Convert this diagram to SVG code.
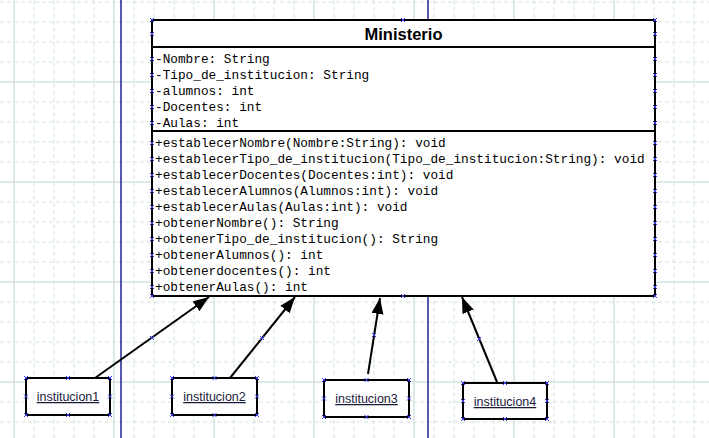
<svg xmlns="http://www.w3.org/2000/svg" xmlns:xlink="http://www.w3.org/1999/xlink" width="709" height="438" viewBox="0 0 709 438">
<style>
.gd{stroke:#d3e3df;stroke-width:1;stroke-dasharray:4 3;fill:none}
.gs{stroke:#d3e3df;stroke-width:1.5;fill:none}
.lane{stroke:#000080;stroke-width:1.3}
.box{fill:#fff;stroke:#000;stroke-width:2}
.sep{stroke:#000;stroke-width:2}
.mono{font-family:"Liberation Mono","Courier New",monospace;font-size:12.75px;fill:#000}
.title{font-family:"Liberation Sans",Arial,sans-serif;font-size:16.5px;font-weight:bold;fill:#000}
.lbl{font-family:"Liberation Sans",Arial,sans-serif;font-size:12.5px;fill:#1a1a3a;text-decoration:underline}
.con{stroke:#000;stroke-width:2;fill:none}
.hd{stroke:#3838e0;stroke-width:1;fill:none}
</style>
<defs>
<marker id="ah" markerUnits="userSpaceOnUse" markerWidth="18" markerHeight="14" refX="16" refY="6" orient="auto">
<path d="M0,0 L16,6 L0,12 Z" fill="#000"/>
</marker>
<path id="h" class="hd" d="M-2,-2 L2,2 M-2,2 L2,-2"/>
</defs>
<rect width="709" height="438" fill="#fff"/>
<g id="grid">
<path class="gd" d="M34,0V438M54,0V438M74,0V438M94,0V438M134,0V438M154,0V438M174,0V438M194,0V438M234,0V438M254,0V438M274,0V438M294,0V438M334,0V438M354,0V438M374,0V438M394,0V438M434,0V438M454,0V438M474,0V438M494,0V438M534,0V438M554,0V438M574,0V438M594,0V438M634,0V438M654,0V438M674,0V438M694,0V438"/>
<path class="gd" d="M0,2H709M0,22H709M0,42H709M0,62H709M0,102H709M0,122H709M0,142H709M0,162H709M0,202H709M0,222H709M0,242H709M0,262H709M0,302H709M0,322H709M0,342H709M0,362H709M0,402H709M0,422H709"/>
<path class="gs" d="M14,0V438M114,0V438M214,0V438M314,0V438M414,0V438M514,0V438M614,0V438M0,82H709M0,182H709M0,282H709M0,382H709"/>
<line class="lane" x1="121" y1="0" x2="121" y2="438"/>
<line class="lane" x1="428" y1="0" x2="428" y2="438"/>
</g>
<g id="Ministerio">
<rect class="box" x="152" y="20" width="503" height="276"/>
<line class="sep" x1="152" y1="47" x2="655" y2="47"/>
<line class="sep" x1="152" y1="131" x2="655" y2="131"/>
<text class="title" x="403.5" y="40" text-anchor="middle">Ministerio</text>
<text class="mono" x="155" y="63">-Nombre: String</text>
<text class="mono" x="155" y="79">-Tipo_de_institucion: String</text>
<text class="mono" x="155" y="95">-alumnos: int</text>
<text class="mono" x="155" y="111">-Docentes: int</text>
<text class="mono" x="155" y="127">-Aulas: int</text>
<text class="mono" x="155" y="147">+establecerNombre(Nombre:String): void</text>
<text class="mono" x="155" y="163">+establecerTipo_de_institucion(Tipo_de_institucion:String): void</text>
<text class="mono" x="155" y="179">+establecerDocentes(Docentes:int): void</text>
<text class="mono" x="155" y="195">+establecerAlumnos(Alumnos:int): void</text>
<text class="mono" x="155" y="211">+establecerAulas(Aulas:int): void</text>
<text class="mono" x="155" y="227">+obtenerNombre(): String</text>
<text class="mono" x="155" y="243">+obtenerTipo_de_institucion(): String</text>
<text class="mono" x="155" y="259">+obtenerAlumnos(): int</text>
<text class="mono" x="155" y="275">+obtenerdocentes(): int</text>
<text class="mono" x="155" y="291">+obtenerAulas(): int</text>
<use href="#h" x="152" y="20"/><use href="#h" x="152" y="34"/><use href="#h" x="152" y="59"/><use href="#h" x="152" y="75"/><use href="#h" x="152" y="91"/><use href="#h" x="152" y="107"/><use href="#h" x="152" y="123"/>
<use href="#h" x="152" y="143"/><use href="#h" x="152" y="159"/><use href="#h" x="152" y="175"/><use href="#h" x="152" y="191"/><use href="#h" x="152" y="207"/><use href="#h" x="152" y="223"/><use href="#h" x="152" y="239"/><use href="#h" x="152" y="255"/><use href="#h" x="152" y="271"/><use href="#h" x="152" y="287"/><use href="#h" x="152" y="296"/>
<use href="#h" x="655" y="20"/><use href="#h" x="655" y="34"/><use href="#h" x="655" y="59"/><use href="#h" x="655" y="75"/><use href="#h" x="655" y="91"/><use href="#h" x="655" y="107"/><use href="#h" x="655" y="123"/>
<use href="#h" x="655" y="143"/><use href="#h" x="655" y="159"/><use href="#h" x="655" y="175"/><use href="#h" x="655" y="191"/><use href="#h" x="655" y="207"/><use href="#h" x="655" y="223"/><use href="#h" x="655" y="239"/><use href="#h" x="655" y="255"/><use href="#h" x="655" y="271"/><use href="#h" x="655" y="287"/><use href="#h" x="655" y="296"/>
<use href="#h" x="403" y="20"/><use href="#h" x="403" y="296"/>
</g>
<g id="connectors">
<line class="con" x1="95" y1="378" x2="209" y2="297" marker-end="url(#ah)"/>
<line class="con" x1="230" y1="378" x2="295" y2="297" marker-end="url(#ah)"/>
<line class="con" x1="368" y1="374" x2="380" y2="298" marker-end="url(#ah)"/>
<line class="con" x1="497" y1="382" x2="462" y2="297" marker-end="url(#ah)"/>
<use href="#h" x="152" y="338"/><use href="#h" x="262" y="338"/><use href="#h" x="374" y="335"/><use href="#h" x="479" y="339"/>
</g>
<g id="institucion1">
<rect class="box" x="26" y="378" width="84" height="37"/>
<text class="lbl" x="68" y="401" text-anchor="middle">institucion1</text>
<use href="#h" x="26" y="378"/><use href="#h" x="68" y="378"/><use href="#h" x="110" y="378"/><use href="#h" x="26" y="396.5"/><use href="#h" x="110" y="396.5"/><use href="#h" x="26" y="415"/><use href="#h" x="68" y="415"/><use href="#h" x="110" y="415"/>
</g>
<g id="institucion2">
<rect class="box" x="172" y="378" width="85" height="37"/>
<text class="lbl" x="214.5" y="401" text-anchor="middle">institucion2</text>
<use href="#h" x="172" y="378"/><use href="#h" x="214.5" y="378"/><use href="#h" x="257" y="378"/><use href="#h" x="172" y="396.5"/><use href="#h" x="257" y="396.5"/><use href="#h" x="172" y="415"/><use href="#h" x="214.5" y="415"/><use href="#h" x="257" y="415"/>
</g>
<g id="institucion3">
<rect class="box" x="324" y="380" width="85" height="37"/>
<text class="lbl" x="366.5" y="403" text-anchor="middle">institucion3</text>
<use href="#h" x="324" y="380"/><use href="#h" x="366.5" y="380"/><use href="#h" x="409" y="380"/><use href="#h" x="324" y="398.5"/><use href="#h" x="409" y="398.5"/><use href="#h" x="324" y="417"/><use href="#h" x="366.5" y="417"/><use href="#h" x="409" y="417"/>
</g>
<g id="institucion4">
<rect class="box" x="463" y="383" width="84" height="36"/>
<text class="lbl" x="505" y="406" text-anchor="middle">institucion4</text>
<use href="#h" x="463" y="383"/><use href="#h" x="505" y="383"/><use href="#h" x="547" y="383"/><use href="#h" x="463" y="401"/><use href="#h" x="547" y="401"/><use href="#h" x="463" y="419"/><use href="#h" x="505" y="419"/><use href="#h" x="547" y="419"/>
</g>
</svg>
